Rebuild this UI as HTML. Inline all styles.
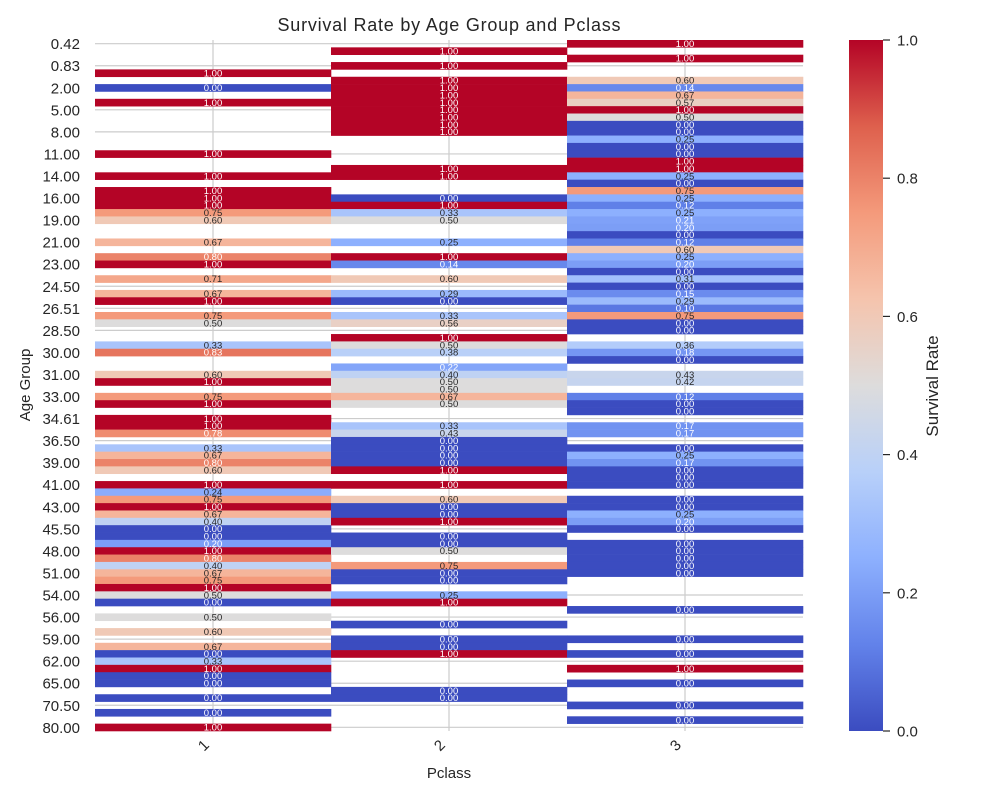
<!DOCTYPE html>
<html><head><meta charset="utf-8"><style>
body{margin:0;background:#fff;}
svg{display:block;font-family:"Liberation Sans",sans-serif;}
</style></head><body>
<svg id="chart" width="1000" height="800"></svg>
<script>
const ages=[0.42,0.67,0.75,0.83,0.92,1,2,3,4,5,
6,7,8,9,10,11,12,13,14,14.5,
15,16,17,18,19,20,20.5,21,22,22.5,
23,23.5,24,24.5,25,26,26.51,27,28,28.5,
29,29.7,30,30.5,30.8,31,32,32.5,33,34,
34.5,34.61,35,36,36.5,37,38,39,40,40.5,
41,42,42.5,43,44,45,45.5,46,47,48,
49,50,51,52,53,54,55,55.5,56,57,
58,59,60,61,62,63,64,65,66,70,
70.5,71,74,80];
const classes=["1","2","3"];
const N=null;
const class1=[N,N,N,N,1,N,0,N,1,N,N,N,N,N,N,1,N,N,1,N,1,1,1,0.75,0.6,N,N,0.67,N,0.8,1,N,0.71,N,0.67,1,N,0.75,0.5,N,N,0.33,0.83,N,N,0.6,1,N,0.75,1,N,1,1,0.78,N,0.33,0.67,0.8,0.6,N,1,0.24,0.75,1,0.67,0.4,0,0,0.2,1,0.8,0.4,0.67,0.75,1,0.5,0,N,0.5,N,0.6,N,0.67,0,0.33,1,0,0,N,0,N,0,N,1];
const class2=[N,1,N,1,N,1,1,1,1,1,1,1,1,N,N,N,N,1,1,N,N,0,1,0.33,0.5,N,N,0.25,N,1,0.14,N,0.6,N,0.29,0,N,0.33,0.56,N,1,0.5,0.38,N,0.22,0.4,0.5,0.5,0.67,0.5,N,N,0.33,0.43,0,0,0,0,1,N,1,N,0.6,0,0,1,N,0,0,0.5,N,0.75,0,0,N,0.25,1,N,N,0,N,0,0,1,N,N,N,N,0,0,N,N,N,N];
const class3=[1,N,1,N,N,0.6,0.14,0.67,0.57,1,0.5,0,0,0.25,0,0,1,1,0.25,0,0.75,0.25,0.12,0.25,0.21,0.2,0,0.12,0.6,0.25,0.2,0,0.31,0,0.15,0.29,0.1,0.75,0,0,N,0.36,0.18,0,N,0.43,0.42,N,0.12,0,0,N,0.17,0.17,N,0,0.25,0.17,0,0,0,N,0,0,0.25,0.2,0,N,0,0,0,0,0,N,N,N,N,0,N,N,N,0,N,0,N,1,N,0,N,N,0,N,0,N];
const cbTicks=[0,0.2,0.4,0.6,0.8,1.0];

const svg=document.getElementById('chart');
const NS='http://www.w3.org/2000/svg';
function mk(tag,attrs,parent){const e=document.createElementNS(NS,tag);for(const k in attrs)e.setAttribute(k,attrs[k]);(parent||svg).appendChild(e);return e;}
const X0=95,X1=803,Y0=40,Y1=731;
const colW=(X1-X0)/classes.length, rowH=(Y1-Y0)/ages.length;
const xc=i=>X0+colW*(i+0.5), yr=i=>Y0+rowH*i;
const stops=[[0,[59,76,192]],[0.125,[98,130,234]],[0.25,[141,176,254]],[0.375,[184,208,249]],[0.5,[221,220,220]],[0.625,[245,196,173]],[0.75,[244,154,123]],[0.875,[222,96,77]],[1,[180,4,38]]];
function cmap(v){for(let i=1;i<stops.length;i++){if(v<=stops[i][0]){const a=stops[i-1],b=stops[i],t=(v-a[0])/(b[0]-a[0]);return 'rgb('+a[1].map((c,j)=>Math.round(c+(b[1][j]-c)*t)).join(',')+')';}}return 'rgb(180,4,38)';}

// grid
for(let i=0;i<ages.length;i+=3){const l=mk('line',{x1:X0,x2:X1,y1:yr(i)+rowH/2,y2:yr(i)+rowH/2,stroke:'#cccccc','stroke-width':1.2});

}
classes.forEach((c,i)=>{const l=mk('line',{x1:xc(i),x2:xc(i),y1:Y0,y2:Y1,stroke:'#cccccc','stroke-width':1.2});

});

const series=[class1,class2,class3];
const cells=mk('g',{});


series.forEach((s,ci)=>{s.forEach((v,ri)=>{if(v===null)return;
const r=mk('rect',{x:X0+colW*ci,y:yr(ri),width:colW+0.3,height:rowH+0.3,fill:cmap(v)},cells);

});});
series.forEach((s,ci)=>{s.forEach((v,ri)=>{if(v===null)return;
const light=(v<0.24||v>0.77);
const t=mk('text',{x:xc(ci),y:yr(ri)+rowH/2+3.3,'text-anchor':'middle','font-size':9.5,fill:light?'#ffffff':'#262626'},cells);
t.textContent=v.toFixed(2);

});});

// y ticks
for(let i=0;i<ages.length;i+=3){const t=mk('text',{x:80,y:yr(i)+rowH/2+5.5,'text-anchor':'end','font-size':15,fill:'#262626'});
t.textContent=ages[i].toFixed(2);

}
// x ticks
classes.forEach((c,i)=>{const x=xc(i)-3,y=746;const t=mk('text',{x:x,y:y,'text-anchor':'end','font-size':15,fill:'#262626',transform:'rotate(-45 '+x+' '+y+')'});
t.textContent=c;

});

let t=mk('text',{x:449,y:31,'text-anchor':'middle','font-size':18,fill:'#262626',textLength:343});t.textContent='Survival Rate by Age Group and Pclass';


t=mk('text',{x:449,y:778,'text-anchor':'middle','font-size':15,fill:'#262626'});t.textContent='Pclass';


t=mk('text',{x:30,y:385,'text-anchor':'middle','font-size':15,fill:'#262626',transform:'rotate(-90 30 385)'});t.textContent='Age Group';



// colorbar
const defs=mk('defs',{});const g=mk('linearGradient',{id:'cg',x1:0,y1:1,x2:0,y2:0},defs);
stops.forEach(s=>mk('stop',{offset:s[0],'stop-color':'rgb('+s[1].join(',')+')'},g));
const cb=mk('rect',{x:849,y:Y0,width:34,height:Y1-Y0,fill:'url(#cg)'});


cbTicks.forEach(v=>{const y=Y1-(Y1-Y0)*v;
const l=mk('line',{x1:883,x2:890,y1:y,y2:y,stroke:'#262626','stroke-width':1.2});


const tt=mk('text',{x:897,y:y+5.5,'font-size':15,fill:'#262626'});tt.textContent=v.toFixed(1);

});
t=mk('text',{x:938,y:386,'text-anchor':'middle','font-size':17,fill:'#262626',transform:'rotate(-90 938 386)'});t.textContent='Survival Rate';


</script>
</body></html>
